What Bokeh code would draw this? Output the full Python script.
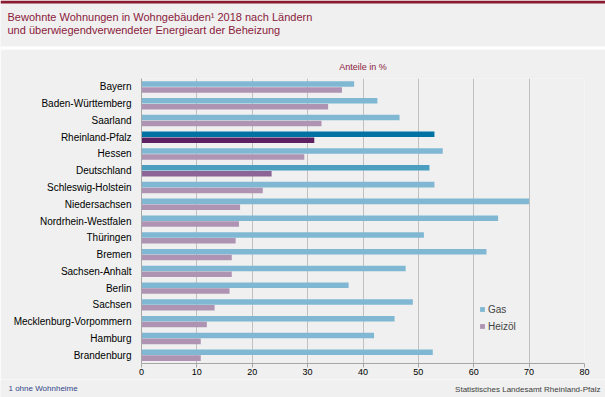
from bokeh.plotting import figure
from bokeh.layouts import column, row
from bokeh.models import (FactorRange, Range1d, ColumnDataSource, Legend, LegendItem,
                          Label, BoxAnnotation, FixedTicker)
from bokeh.transform import dodge
from bokeh.embed import file_html
from bokeh.resources import INLINE

laender = ["Bayern", "Baden-Württemberg", "Saarland", "Rheinland-Pfalz", "Hessen",
           "Deutschland", "Schleswig-Holstein", "Niedersachsen", "Nordrhein-Westfalen",
           "Thüringen", "Bremen", "Sachsen-Anhalt", "Berlin", "Sachsen",
           "Mecklenburg-Vorpommern", "Hamburg", "Brandenburg"]
gas = [38.4, 42.6, 46.6, 52.9, 54.4, 52.0, 52.9, 70.0, 64.4, 51.0, 62.3, 47.7,
       37.4, 49.0, 45.7, 42.0, 52.6]
heizoel = [36.2, 33.7, 32.5, 31.2, 29.4, 23.5, 21.9, 17.8, 17.6, 17.0, 16.3, 16.3,
           15.9, 13.2, 11.8, 10.7, 10.7]
x_ticks = [0, 10, 20, 30, 40, 50, 60, 70, 80]

FONT = "Liberation Sans"
MAROON = "#8b1a3c"
BG = "#eff0ef"
W = 605


def gas_col(l):
    return {"Rheinland-Pfalz": "#0072a3", "Deutschland": "#4b9ec0"}.get(l, "#80b8d3")


def hz_col(l):
    return {"Rheinland-Pfalz": "#5b2160", "Deutschland": "#8c6596"}.get(l, "#ae93b3")


def blank(h):
    f = figure(width=W, height=h, x_range=Range1d(0, W), y_range=Range1d(0, h),
               x_axis_type=None, y_axis_type=None, output_backend="svg",
               toolbar_location=None, min_border=0)
    f.grid.visible = False
    f.outline_line_color = None
    f.background_fill_color = BG
    f.border_fill_color = BG
    return f


# ---- header ----
head = blank(49)
head.add_layout(BoxAnnotation(left=0, right=W, top=49, bottom=46,
                              left_units="screen", right_units="screen",
                              top_units="screen", bottom_units="screen",
                              fill_color="#8b1a30", fill_alpha=1, line_color=None))
head.add_layout(BoxAnnotation(left=0, right=W, top=3, bottom=0,
                              left_units="screen", right_units="screen",
                              top_units="screen", bottom_units="screen",
                              fill_color="#ffffff", fill_alpha=1, line_color=None))
for txt, yy in [("Bewohnte Wohnungen in Wohngebäuden¹ 2018 nach Ländern", 33),
                ("und überwiegendverwendeter Energieart der Beheizung", 19.5)]:
    head.add_layout(Label(x=7, y=yy, x_units="screen", y_units="screen", text=txt,
                          text_font=FONT, text_font_size="11px", text_color=MAROON,
                          text_baseline="middle", text_align="left"))

# ---- main chart ----
src = ColumnDataSource(dict(
    land=laender, gas=gas, heizoel=heizoel,
    gcol=[gas_col(l) for l in laender],
    hcol=[hz_col(l) for l in laender],
))

p = figure(frame_width=443, frame_height=285,
           y_range=FactorRange(factors=list(reversed(laender))),
           x_range=Range1d(0, 80),
           output_backend="svg", toolbar_location=None,
           min_border_left=141, min_border_right=21,
           min_border_top=29, min_border_bottom=16)
p.background_fill_color = BG
p.border_fill_color = BG
p.outline_line_color = None

p.title.text = "Anteile in %"
p.title.align = "center"
p.title.text_font = FONT
p.title.text_font_size = "9px"
p.title.text_font_style = "normal"
p.title.text_color = MAROON
p.title.standoff = 13

r_gas = p.hbar(y=dodge("land", 0.17, range=p.y_range), left=0, right="gas", height=0.33,
               fill_color="gcol", line_color=None, source=src)
r_hz = p.hbar(y=dodge("land", -0.18, range=p.y_range), left=0, right="heizoel", height=0.33,
              fill_color="hcol", line_color=None, source=src)

p.xaxis.ticker = FixedTicker(ticks=x_ticks)
p.xgrid.ticker = FixedTicker(ticks=x_ticks)
p.xgrid.grid_line_color = "#c0c0c0"
p.ygrid.grid_line_color = None
p.xaxis.axis_line_color = "#a6a6a6"
p.xaxis.major_tick_line_color = "#a6a6a6"
p.xaxis.major_tick_out = 4
p.xaxis.major_tick_in = 0
p.xaxis.minor_tick_line_color = None
p.xaxis.major_label_text_font = FONT
p.xaxis.major_label_text_font_size = "9px"
p.xaxis.major_label_text_color = "#000000"
p.xaxis.major_label_standoff = 1

p.yaxis.axis_line_color = "#a6a6a6"
p.yaxis.major_tick_line_color = None
p.yaxis.major_label_text_font = FONT
p.yaxis.major_label_text_font_size = "10px"
p.yaxis.major_label_text_color = "#000000"
p.yaxis.major_label_standoff = 4

legend = Legend(items=[LegendItem(label="Gas", renderers=[r_gas], index=0),
                       LegendItem(label="Heizöl", renderers=[r_hz], index=0)],
                location=(338, 31), orientation="vertical",
                background_fill_alpha=0, border_line_color=None,
                glyph_width=6, glyph_height=6, label_height=12, spacing=5,
                padding=0, margin=0, label_standoff=3,
                label_text_font=FONT, label_text_font_size="10px")
p.add_layout(legend)

# ---- footer ----
foot = blank(18)
foot.add_layout(Label(x=8, y=9.3, x_units="screen", y_units="screen", text="1 ohne Wohnheime",
                      text_font=FONT, text_font_size="8px", text_color="#34478c",
                      text_baseline="middle", text_align="left"))
foot.add_layout(Label(x=600, y=8, x_units="screen", y_units="screen",
                      text="Statistisches Landesamt Rheinland-Pfalz",
                      text_font=FONT, text_font_size="8px", text_color="#404040",
                      text_baseline="middle", text_align="right"))

layout = column(row(head), p, row(foot), spacing=0)
open("out.html", "w").write(file_html(layout, INLINE))
